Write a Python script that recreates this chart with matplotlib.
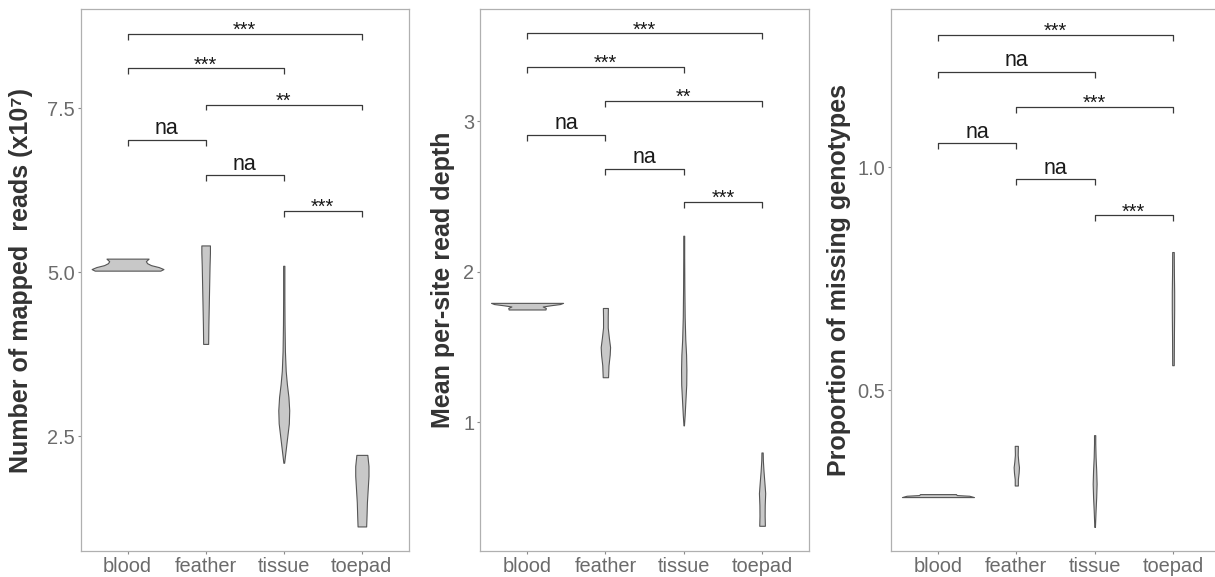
import numpy as np
import matplotlib
matplotlib.use("Agg")
import matplotlib.pyplot as plt

plt.rcParams['font.family'] = ['Liberation Sans', 'DejaVu Sans']

groups = ["blood", "feather", "tissue", "toepad"]

# violin outlines: y levels and half-widths (category units)
reads_levels = [
    [5.026, 5.05, 5.08, 5.11, 5.14, 5.17, 5.209],
    [3.91, 4.2, 4.5, 4.8, 5.1, 5.3, 5.41],
    [2.10, 2.3, 2.5, 2.7, 2.9, 3.1, 3.3, 3.5, 3.8, 4.2, 4.6, 5.10],
    [1.13, 1.3, 1.5, 1.7, 1.9, 2.05, 2.22],
]
reads_width = [
    [0.42, 0.46, 0.40, 0.30, 0.25, 0.235, 0.27],
    [0.032, 0.035, 0.04, 0.045, 0.05, 0.055, 0.055],
    [0.005, 0.025, 0.045, 0.065, 0.07, 0.06, 0.04, 0.025, 0.015, 0.01, 0.008, 0.008],
    [0.055, 0.06, 0.065, 0.075, 0.085, 0.085, 0.07],
]

depth_levels = [
    [1.750, 1.760, 1.770, 1.778, 1.786, 1.794],
    [1.30, 1.38, 1.45, 1.50, 1.56, 1.63, 1.70, 1.76],
    [0.98, 1.05, 1.15, 1.25, 1.35, 1.45, 1.55, 1.7, 1.9, 2.1, 2.24],
    [0.313, 0.38, 0.45, 0.53, 0.60, 0.68, 0.75, 0.80],
]
depth_width = [
    [0.235, 0.24, 0.20, 0.30, 0.42, 0.46],
    [0.034, 0.04, 0.055, 0.06, 0.045, 0.03, 0.03, 0.032],
    [0.003, 0.012, 0.022, 0.032, 0.034, 0.03, 0.02, 0.012, 0.008, 0.006, 0.006],
    [0.036, 0.033, 0.034, 0.04, 0.03, 0.018, 0.01, 0.008],
]

missing_levels = [
    [0.2600, 0.2630, 0.2645, 0.2667],
    [0.286, 0.30, 0.315, 0.327, 0.34, 0.355, 0.375],
    [0.193, 0.23, 0.26, 0.29, 0.32, 0.35, 0.38, 0.399],
    [0.556, 0.62, 0.68, 0.72, 0.76, 0.81],
]
missing_width = [
    [0.46, 0.40, 0.24, 0.23],
    [0.02, 0.02, 0.03, 0.034, 0.025, 0.018, 0.02],
    [0.004, 0.012, 0.02, 0.025, 0.02, 0.012, 0.008, 0.008],
    [0.01, 0.012, 0.015, 0.015, 0.012, 0.01],
]

# significance brackets
pairs = [(0, 3), (0, 2), (1, 3), (0, 1), (1, 2), (2, 3)]
reads_sig_y = [8.637, 8.106, 7.556, 7.018, 6.48, 5.94]
reads_sig = ["***", "***", "**", "na", "na", "***"]
depth_sig_y = [3.584, 3.36, 3.137, 2.91, 2.684, 2.464]
depth_sig = ["***", "***", "**", "na", "na", "***"]
missing_sig_y = [1.297, 1.215, 1.135, 1.054, 0.973, 0.892]
missing_sig = ["***", "na", "***", "na", "na", "***"]

reads_ticks = [2.5, 5.0, 7.5]
depth_ticks = [1, 2, 3]
missing_ticks = [0.5, 1.0]

panels = [
    (reads_levels, reads_width, pairs, reads_sig_y, reads_sig, reads_ticks,
     ["2.5", "5.0", "7.5"], (0.756, 9.008),
     "Number of mapped  reads (x10\u2077)", -0.144, [0.0664, 0.04506, 0.27, 0.939]),
    (depth_levels, depth_width, pairs, depth_sig_y, depth_sig, depth_ticks,
     ["1", "2", "3"], (0.1455, 3.745),
     "Mean per-site read depth", -0.076, [0.3951, 0.04506, 0.2708, 0.939]),
    (missing_levels, missing_width, pairs, missing_sig_y, missing_sig, missing_ticks,
     ["0.5", "1.0"], (0.139, 1.355),
     "Proportion of missing genotypes", -0.12, [0.7333, 0.04506, 0.2708, 0.939]),
]

fig = plt.figure(figsize=(12.15, 5.77), dpi=100)

for levels, widths, prs, sig_y, sig, ticks, ticklabels, ylim, ylabel, labx, rect in panels:
    ax = fig.add_axes(rect)
    for i, (ys, ws) in enumerate(zip(levels, widths)):
        ys = np.array(ys)
        ws = np.array(ws)
        ax.fill_betweenx(ys, i - ws, i + ws, facecolor='#c8c8c8',
                         edgecolor='#555555', linewidth=0.8, zorder=2)

    tip = 0.011 * (ylim[1] - ylim[0])
    for (a, b), y, lab in zip(prs, sig_y, sig):
        ax.plot([a, a, b, b], [y - tip, y, y, y - tip], color='#3a3a3a',
                linewidth=0.9, solid_capstyle='butt', zorder=3)
        if lab == "na":
            off, fs = 4.0, 15.5
        else:
            off, fs = -1.5, 14.4
        ax.annotate(lab, xy=((a + b) / 2, y), xytext=(0, off),
                    textcoords='offset points', ha='center', va='baseline',
                    fontsize=fs, color='#1a1a1a')

    ax.set_xlim(-0.6, 3.6)
    ax.set_ylim(*ylim)
    ax.set_xticks(range(len(groups)))
    ax.set_xticklabels(groups)
    ax.set_yticks(ticks)
    ax.set_yticklabels(ticklabels)
    ax.tick_params(axis='both', direction='out', length=2.5, width=0.8,
                   color='#8a8a8a', labelcolor='#6b6b6b', labelsize=14.4, pad=1.5)
    for sp in ax.spines.values():
        sp.set_color('#b0b0b0')
        sp.set_linewidth(0.9)
    ax.set_ylabel(ylabel, fontsize=18, fontweight='bold', color='#333333')
    ax.yaxis.set_label_coords(labx, 0.5)

fig.savefig('out.png', dpi=100)
